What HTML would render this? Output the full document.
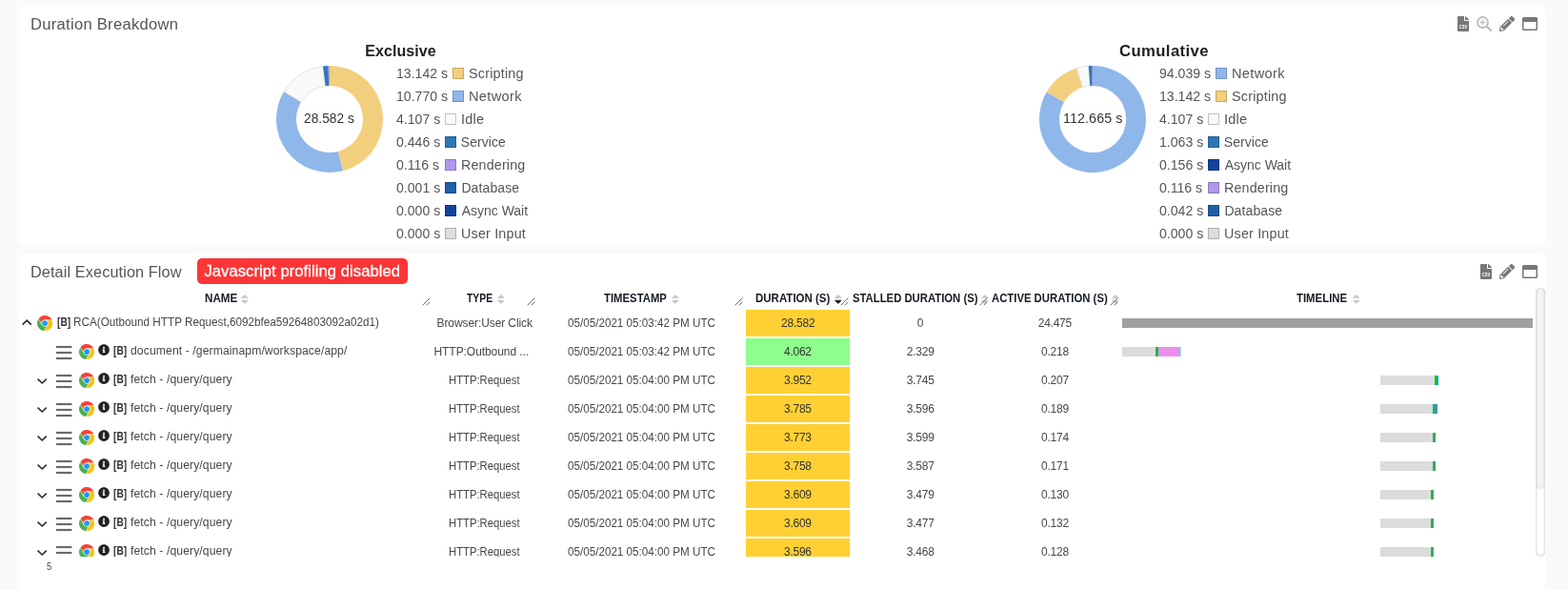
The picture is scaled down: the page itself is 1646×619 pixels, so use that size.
<!DOCTYPE html>
<html lang="en"><head><meta charset="utf-8"><title>Duration Breakdown</title><style>
html,body{margin:0;padding:0}
html{width:1646px;height:619px;overflow:hidden;background:#fafafa}
body{width:1646px;height:619px;overflow:hidden;background:#fafafa;position:relative;font-family:"Liberation Sans", sans-serif}
.a{position:absolute;display:block}
.panel{position:absolute;background:#ffffff;border-radius:4px}
.t{position:absolute;white-space:pre;line-height:20px;font-family:"Liberation Sans", sans-serif;transform-origin:0 50%}
</style></head>
<body>
<div class="panel" style="left:20px;top:7px;width:1602px;height:250px"></div>
<div class="panel" style="left:20px;top:267px;width:1602px;height:352px;border-radius:4px 4px 0 0"></div>
<span class="t" style="left:32.17px;top:16.00px;font-size:16px;font-weight:400;color:#555555;letter-spacing:0.281px;transform:scaleX(1.0346);">Duration Breakdown</span>
<span class="t" style="left:32.18px;top:276.00px;font-size:16px;font-weight:400;color:#555555;letter-spacing:0.113px;transform:scaleX(1.0150);">Detail Execution Flow</span>
<svg class="a" style="left:1530px;top:17px" width="12" height="16" viewBox="0 0 384 512"><path fill="#777777" d="M224 136V0H24C10.700 0 0 10.700 0 24v464c0 13.300 10.700 24 24 24h336c13.300 0 24-10.700 24-24V160H248c-13.200 0-24-10.800-24-24zM384 121.900v6.100H256V0h6.100c6.400 0 12.500 2.500 17 7l97.900 98c4.500 4.500 7 10.600 7 16.900z"/><text x="192" y="404" text-anchor="middle" font-family="Liberation Sans, sans-serif" font-weight="700" font-size="172" fill="#fff" textLength="272" lengthAdjust="spacingAndGlyphs">CSV</text></svg>
<svg class="a" style="left:1550px;top:17px" width="16" height="16" viewBox="0 0 16 16" fill="none" stroke="#bcbcbc"><circle cx="6.500" cy="6.500" r="5.500" stroke-width="1.800"/><path d="M10.800 10.800L15.100 15.100" stroke-width="2.200" stroke-linecap="round"/><path d="M3.600 6.500H9.400M6.500 3.600V9.400" stroke-width="1.300"/></svg>
<svg class="a" style="left:1574px;top:17px" width="16" height="16" viewBox="0 0 512 512"><path fill="#777777" d="M497.900 142.100l-46.100 46.100c-4.700 4.700-12.300 4.700-17 0l-111-111c-4.700-4.700-4.700-12.300 0-17l46.100-46.100c18.700-18.700 49.100-18.700 67.900 0l60.100 60.100c18.800 18.700 18.800 49.100 0 67.900zM284.200 99.800L21.600 362.400.4 483.900c-2.900 16.400 11.400 30.600 27.800 27.800l121.500-21.300 262.600-262.600c4.700-4.700 4.700-12.300 0-17l-111-111c-4.800-4.700-12.400-4.700-17.100 0zM124.100 339.900c-5.500-5.500-5.500-14.300 0-19.800l154-154c5.500-5.500 14.300-5.500 19.800 0s5.500 14.300 0 19.800l-154 154c-5.500 5.500-14.300 5.500-19.800 0zM88 424h48v36.300l-64.500 11.300-31.100-31.100L51.700 376H88v48z"/></svg>
<svg class="a" style="left:1598px;top:17px" width="16" height="16" viewBox="0 0 512 512"><path fill="#777777" d="M464 32H48C21.500 32 0 53.500 0 80v352c0 26.500 21.500 48 48 48h416c26.500 0 48-21.500 48-48V80c0-26.500-21.500-48-48-48zm0 394c0 3.300-2.700 6-6 6H54c-3.300 0-6-2.700-6-6V192h416v234z"/></svg>
<svg class="a" style="left:1554px;top:277px" width="12" height="16" viewBox="0 0 384 512"><path fill="#777777" d="M224 136V0H24C10.700 0 0 10.700 0 24v464c0 13.300 10.700 24 24 24h336c13.300 0 24-10.700 24-24V160H248c-13.200 0-24-10.800-24-24zM384 121.900v6.100H256V0h6.100c6.400 0 12.500 2.500 17 7l97.900 98c4.500 4.500 7 10.600 7 16.900z"/><text x="192" y="404" text-anchor="middle" font-family="Liberation Sans, sans-serif" font-weight="700" font-size="172" fill="#fff" textLength="272" lengthAdjust="spacingAndGlyphs">CSV</text></svg>
<svg class="a" style="left:1574px;top:277px" width="16" height="16" viewBox="0 0 512 512"><path fill="#777777" d="M497.900 142.100l-46.100 46.100c-4.700 4.700-12.300 4.700-17 0l-111-111c-4.700-4.700-4.700-12.300 0-17l46.100-46.100c18.700-18.700 49.100-18.700 67.900 0l60.100 60.100c18.800 18.700 18.800 49.100 0 67.900zM284.200 99.800L21.600 362.400.4 483.900c-2.900 16.400 11.400 30.600 27.800 27.800l121.500-21.300 262.600-262.600c4.700-4.700 4.700-12.300 0-17l-111-111c-4.800-4.700-12.400-4.700-17.100 0zM124.100 339.900c-5.500-5.500-5.500-14.300 0-19.800l154-154c5.500-5.500 14.300-5.500 19.800 0s5.500 14.300 0 19.800l-154 154c-5.500 5.500-14.300 5.500-19.800 0zM88 424h48v36.300l-64.500 11.300-31.100-31.100L51.700 376H88v48z"/></svg>
<svg class="a" style="left:1598px;top:277px" width="16" height="16" viewBox="0 0 512 512"><path fill="#777777" d="M464 32H48C21.500 32 0 53.500 0 80v352c0 26.500 21.500 48 48 48h416c26.500 0 48-21.500 48-48V80c0-26.500-21.500-48-48-48zm0 394c0 3.300-2.700 6-6 6H54c-3.300 0-6-2.700-6-6V192h416v234z"/></svg>
<svg class="a" style="left:285.9px;top:65px" width="120" height="120" viewBox="285.9 65 120 120"><path d="M345.90 69.00A56 56 0 0 1 359.89 179.22L354.65 158.89A35 35 0 0 0 345.90 90.00Z" fill="#f2cf7c" /><path d="M359.89 179.22A56 56 0 0 1 297.99 96.01L315.96 106.88A35 35 0 0 0 354.65 158.89Z" fill="#90b7ea" /><path d="M297.99 96.01A56 56 0 0 1 338.99 69.43L341.58 90.27A35 35 0 0 0 315.96 106.88Z" fill="#f9f9f9" stroke="#e0e0e0" stroke-width="0.9"/><path d="M338.99 69.43A56 56 0 0 1 344.46 69.02L345.00 90.01A35 35 0 0 0 341.58 90.27Z" fill="#2f77b4" /><path d="M344.46 69.02A56 56 0 0 1 345.89 69.00L345.89 90.00A35 35 0 0 0 345.00 90.01Z" fill="#b298ea" /><path d="M345.89 69.00A56 56 0 0 1 345.90 69.00L345.90 90.00A35 35 0 0 0 345.89 90.00Z" fill="#1f5fa8" /></svg>
<span class="t" style="left:383.30px;top:44.00px;font-size:16px;font-weight:700;color:#222222;letter-spacing:0.062px;">Exclusive</span>
<span class="t" style="left:319.40px;top:114.00px;font-size:14px;font-weight:400;color:#333333;transform:scaleX(0.9833);">28.582 s</span>
<span class="t" style="left:415.90px;top:67.00px;font-size:14px;font-weight:400;color:#555555;transform:scaleX(1.0060);">13.142 s</span>
<div class="a" style="left:475px;top:71px;width:12px;height:12px;box-sizing:border-box;background:#f2cf7c;border:1px solid #c9a95c"></div>
<span class="t" style="left:491.77px;top:67.00px;font-size:14px;font-weight:400;color:#555555;letter-spacing:0.182px;transform:scaleX(1.0283);">Scripting</span>
<span class="t" style="left:415.90px;top:91.00px;font-size:14px;font-weight:400;color:#555555;transform:scaleX(1.0060);">10.770 s</span>
<div class="a" style="left:475px;top:95px;width:12px;height:12px;box-sizing:border-box;background:#90b7ea;border:1px solid #6f93c4"></div>
<span class="t" style="left:492.06px;top:91.00px;font-size:14px;font-weight:400;color:#555555;letter-spacing:0.328px;transform:scaleX(1.0410);">Network</span>
<span class="t" style="left:415.90px;top:115.00px;font-size:14px;font-weight:400;color:#555555;transform:scaleX(1.0060);">4.107 s</span>
<div class="a" style="left:467.1px;top:119px;width:12px;height:12px;box-sizing:border-box;background:#f9f9f9;border:1px solid #c2c2c2"></div>
<span class="t" style="left:484.06px;top:115.00px;font-size:14px;font-weight:400;color:#555555;letter-spacing:0.241px;transform:scaleX(1.0357);">Idle</span>
<span class="t" style="left:415.90px;top:139.00px;font-size:14px;font-weight:400;color:#555555;transform:scaleX(1.0060);">0.446 s</span>
<div class="a" style="left:467.1px;top:143px;width:12px;height:12px;box-sizing:border-box;background:#2f77b4;border:1px solid #255f90"></div>
<span class="t" style="left:483.80px;top:139.00px;font-size:14px;font-weight:400;color:#555555;letter-spacing:0.050px;">Service</span>
<span class="t" style="left:415.90px;top:163.00px;font-size:14px;font-weight:400;color:#555555;transform:scaleX(1.0060);">0.116 s</span>
<div class="a" style="left:467.1px;top:167px;width:12px;height:12px;box-sizing:border-box;background:#b298ea;border:1px solid #8e79bb"></div>
<span class="t" style="left:484.38px;top:163.00px;font-size:14px;font-weight:400;color:#555555;letter-spacing:0.159px;transform:scaleX(1.0206);">Rendering</span>
<span class="t" style="left:415.90px;top:187.00px;font-size:14px;font-weight:400;color:#555555;transform:scaleX(1.0060);">0.001 s</span>
<div class="a" style="left:467.1px;top:191px;width:12px;height:12px;box-sizing:border-box;background:#1f5fa8;border:1px solid #194c86"></div>
<span class="t" style="left:484.40px;top:187.00px;font-size:14px;font-weight:400;color:#555555;letter-spacing:0.114px;">Database</span>
<span class="t" style="left:415.90px;top:211.00px;font-size:14px;font-weight:400;color:#555555;transform:scaleX(1.0060);">0.000 s</span>
<div class="a" style="left:467.1px;top:215px;width:12px;height:12px;box-sizing:border-box;background:#12449c;border:1px solid #0e367d"></div>
<span class="t" style="left:484.80px;top:211.00px;font-size:14px;font-weight:400;color:#555555;letter-spacing:-0.022px;">Async Wait</span>
<span class="t" style="left:415.90px;top:235.00px;font-size:14px;font-weight:400;color:#555555;transform:scaleX(1.0060);">0.000 s</span>
<div class="a" style="left:467.1px;top:239px;width:12px;height:12px;box-sizing:border-box;background:#dddddd;border:1px solid #b0b0b0"></div>
<span class="t" style="left:484.38px;top:235.00px;font-size:14px;font-weight:400;color:#555555;letter-spacing:0.173px;transform:scaleX(1.0250);">User Input</span>
<svg class="a" style="left:1086.65px;top:65px" width="120" height="120" viewBox="1086.65 65 120 120"><path d="M1146.65 69.00A56 56 0 1 1 1098.39 96.59L1116.49 107.24A35 35 0 1 0 1146.65 90.00Z" fill="#90b7ea" /><path d="M1098.39 96.59A56 56 0 0 1 1129.79 71.60L1136.11 91.62A35 35 0 0 0 1116.49 107.24Z" fill="#f2cf7c" /><path d="M1129.79 71.60A56 56 0 0 1 1142.35 69.17L1143.96 90.10A35 35 0 0 0 1136.11 91.62Z" fill="#f9f9f9" stroke="#e0e0e0" stroke-width="0.9"/><path d="M1142.35 69.17A56 56 0 0 1 1145.67 69.01L1146.04 90.01A35 35 0 0 0 1143.96 90.10Z" fill="#2f77b4" /><path d="M1145.67 69.01A56 56 0 0 1 1146.16 69.00L1146.34 90.00A35 35 0 0 0 1146.04 90.01Z" fill="#12449c" /><path d="M1146.16 69.00A56 56 0 0 1 1146.52 69.00L1146.57 90.00A35 35 0 0 0 1146.34 90.00Z" fill="#b298ea" /><path d="M1146.52 69.00A56 56 0 0 1 1146.65 69.00L1146.65 90.00A35 35 0 0 0 1146.57 90.00Z" fill="#1f5fa8" /></svg>
<span class="t" style="left:1174.60px;top:44.00px;font-size:16px;font-weight:700;color:#222222;letter-spacing:0.389px;transform:scaleX(1.0424);">Cumulative</span>
<span class="t" style="left:1115.68px;top:114.00px;font-size:14px;font-weight:400;color:#333333;letter-spacing:0.117px;transform:scaleX(1.0161);">112.665 s</span>
<span class="t" style="left:1216.90px;top:67.00px;font-size:14px;font-weight:400;color:#555555;transform:scaleX(1.0060);">94.039 s</span>
<div class="a" style="left:1276px;top:71px;width:12px;height:12px;box-sizing:border-box;background:#90b7ea;border:1px solid #6f93c4"></div>
<span class="t" style="left:1293.06px;top:67.00px;font-size:14px;font-weight:400;color:#555555;letter-spacing:0.328px;transform:scaleX(1.0410);">Network</span>
<span class="t" style="left:1216.90px;top:91.00px;font-size:14px;font-weight:400;color:#555555;transform:scaleX(1.0060);">13.142 s</span>
<div class="a" style="left:1276px;top:95px;width:12px;height:12px;box-sizing:border-box;background:#f2cf7c;border:1px solid #c9a95c"></div>
<span class="t" style="left:1292.77px;top:91.00px;font-size:14px;font-weight:400;color:#555555;letter-spacing:0.182px;transform:scaleX(1.0283);">Scripting</span>
<span class="t" style="left:1216.90px;top:115.00px;font-size:14px;font-weight:400;color:#555555;transform:scaleX(1.0060);">4.107 s</span>
<div class="a" style="left:1268.1px;top:119px;width:12px;height:12px;box-sizing:border-box;background:#f9f9f9;border:1px solid #c2c2c2"></div>
<span class="t" style="left:1285.06px;top:115.00px;font-size:14px;font-weight:400;color:#555555;letter-spacing:0.241px;transform:scaleX(1.0357);">Idle</span>
<span class="t" style="left:1216.90px;top:139.00px;font-size:14px;font-weight:400;color:#555555;transform:scaleX(1.0060);">1.063 s</span>
<div class="a" style="left:1268.1px;top:143px;width:12px;height:12px;box-sizing:border-box;background:#2f77b4;border:1px solid #255f90"></div>
<span class="t" style="left:1284.80px;top:139.00px;font-size:14px;font-weight:400;color:#555555;letter-spacing:0.050px;">Service</span>
<span class="t" style="left:1216.90px;top:163.00px;font-size:14px;font-weight:400;color:#555555;transform:scaleX(1.0060);">0.156 s</span>
<div class="a" style="left:1268.1px;top:167px;width:12px;height:12px;box-sizing:border-box;background:#12449c;border:1px solid #0e367d"></div>
<span class="t" style="left:1285.80px;top:163.00px;font-size:14px;font-weight:400;color:#555555;letter-spacing:-0.022px;">Async Wait</span>
<span class="t" style="left:1216.90px;top:187.00px;font-size:14px;font-weight:400;color:#555555;transform:scaleX(1.0060);">0.116 s</span>
<div class="a" style="left:1268.1px;top:191px;width:12px;height:12px;box-sizing:border-box;background:#b298ea;border:1px solid #8e79bb"></div>
<span class="t" style="left:1285.38px;top:187.00px;font-size:14px;font-weight:400;color:#555555;letter-spacing:0.159px;transform:scaleX(1.0206);">Rendering</span>
<span class="t" style="left:1216.90px;top:211.00px;font-size:14px;font-weight:400;color:#555555;transform:scaleX(1.0060);">0.042 s</span>
<div class="a" style="left:1268.1px;top:215px;width:12px;height:12px;box-sizing:border-box;background:#1f5fa8;border:1px solid #194c86"></div>
<span class="t" style="left:1285.40px;top:211.00px;font-size:14px;font-weight:400;color:#555555;letter-spacing:0.114px;">Database</span>
<span class="t" style="left:1216.90px;top:235.00px;font-size:14px;font-weight:400;color:#555555;transform:scaleX(1.0060);">0.000 s</span>
<div class="a" style="left:1268.1px;top:239px;width:12px;height:12px;box-sizing:border-box;background:#dddddd;border:1px solid #b0b0b0"></div>
<span class="t" style="left:1285.38px;top:235.00px;font-size:14px;font-weight:400;color:#555555;letter-spacing:0.173px;transform:scaleX(1.0250);">User Input</span>
<div class="a" style="left:207px;top:271px;width:221px;height:27px;border-radius:5px;background:#fc3535"></div>
<span class="t" style="left:214.40px;top:275.40px;font-size:16.6px;font-weight:400;color:#ffffff;letter-spacing:0.064px;-webkit-text-stroke:0.3px #fff;">Javascript profiling disabled</span>
<span class="t" style="left:215.20px;top:303.00px;font-size:12px;font-weight:700;color:#151922;transform:scaleX(0.9714);">NAME</span>
<svg class="a" style="left:253.20px;top:309.05px" width="7.800" height="9.800" viewBox="0 0 7.800 9.800" stroke-width="0.700" stroke-linejoin="round"><path fill="#c6c6c6" stroke="#c6c6c6" d="M3.900 0.400L7.300 3.600H0.500Z"/><path fill="#c6c6c6" stroke="#c6c6c6" d="M0.500 6.200H7.300L3.900 9.400Z"/></svg>
<span class="t" style="left:490.40px;top:303.00px;font-size:12px;font-weight:700;color:#151922;transform:scaleX(0.8645);">TYPE</span>
<svg class="a" style="left:521.60px;top:309.05px" width="7.800" height="9.800" viewBox="0 0 7.800 9.800" stroke-width="0.700" stroke-linejoin="round"><path fill="#c6c6c6" stroke="#c6c6c6" d="M3.900 0.400L7.300 3.600H0.500Z"/><path fill="#c6c6c6" stroke="#c6c6c6" d="M0.500 6.200H7.300L3.900 9.400Z"/></svg>
<span class="t" style="left:634.40px;top:303.00px;font-size:12px;font-weight:700;color:#151922;transform:scaleX(0.9443);">TIMESTAMP</span>
<svg class="a" style="left:704.90px;top:309.05px" width="7.800" height="9.800" viewBox="0 0 7.800 9.800" stroke-width="0.700" stroke-linejoin="round"><path fill="#c6c6c6" stroke="#c6c6c6" d="M3.900 0.400L7.300 3.600H0.500Z"/><path fill="#c6c6c6" stroke="#c6c6c6" d="M0.500 6.200H7.300L3.900 9.400Z"/></svg>
<span class="t" style="left:793.00px;top:303.00px;font-size:12px;font-weight:700;color:#151922;transform:scaleX(0.9585);">DURATION (S)</span>
<svg class="a" style="left:875.50px;top:309.05px" width="7.800" height="9.800" viewBox="0 0 7.800 9.800" stroke-width="0.700" stroke-linejoin="round"><path fill="#c4c4c4" stroke="#c4c4c4" d="M3.900 0.400L7.300 3.600H0.500Z"/><path fill="#111" stroke="#111" d="M0.500 6.200H7.300L3.900 9.400Z"/></svg>
<span class="t" style="left:894.60px;top:303.00px;font-size:12px;font-weight:700;color:#151922;transform:scaleX(0.9424);">STALLED DURATION (S)</span>
<svg class="a" style="left:1030.20px;top:309.05px" width="7.800" height="9.800" viewBox="0 0 7.800 9.800" stroke-width="0.700" stroke-linejoin="round"><path fill="#c6c6c6" stroke="#c6c6c6" d="M3.900 0.400L7.300 3.600H0.500Z"/><path fill="#c6c6c6" stroke="#c6c6c6" d="M0.500 6.200H7.300L3.900 9.400Z"/></svg>
<span class="t" style="left:1041.00px;top:303.00px;font-size:12px;font-weight:700;color:#151922;transform:scaleX(0.9426);">ACTIVE DURATION (S)</span>
<svg class="a" style="left:1166.70px;top:309.05px" width="7.800" height="9.800" viewBox="0 0 7.800 9.800" stroke-width="0.700" stroke-linejoin="round"><path fill="#c6c6c6" stroke="#c6c6c6" d="M3.900 0.400L7.300 3.600H0.500Z"/><path fill="#c6c6c6" stroke="#c6c6c6" d="M0.500 6.200H7.300L3.900 9.400Z"/></svg>
<span class="t" style="left:1361.40px;top:303.00px;font-size:12px;font-weight:700;color:#151922;transform:scaleX(0.9482);">TIMELINE</span>
<svg class="a" style="left:1419.60px;top:309.05px" width="7.800" height="9.800" viewBox="0 0 7.800 9.800" stroke-width="0.700" stroke-linejoin="round"><path fill="#c6c6c6" stroke="#c6c6c6" d="M3.900 0.400L7.300 3.600H0.500Z"/><path fill="#c6c6c6" stroke="#c6c6c6" d="M0.500 6.200H7.300L3.900 9.400Z"/></svg>
<svg class="a" style="left:442.5px;top:312.3px" width="10" height="10" viewBox="0 0 10 10" stroke="#555" stroke-width="0.9" fill="none"><path d="M0.600 8.300L8.300 0.600M4.800 8.300L8.300 4.800"/></svg>
<svg class="a" style="left:552.5px;top:312.3px" width="10" height="10" viewBox="0 0 10 10" stroke="#555" stroke-width="0.9" fill="none"><path d="M0.600 8.300L8.300 0.600M4.800 8.300L8.300 4.800"/></svg>
<svg class="a" style="left:770.5px;top:312.3px" width="10" height="10" viewBox="0 0 10 10" stroke="#555" stroke-width="0.9" fill="none"><path d="M0.600 8.300L8.300 0.600M4.800 8.300L8.300 4.800"/></svg>
<svg class="a" style="left:881.5px;top:312.3px" width="10" height="10" viewBox="0 0 10 10" stroke="#555" stroke-width="0.9" fill="none"><path d="M0.600 8.300L8.300 0.600M4.800 8.300L8.300 4.800"/></svg>
<svg class="a" style="left:1027.5px;top:312.3px" width="10" height="10" viewBox="0 0 10 10" stroke="#555" stroke-width="0.9" fill="none"><path d="M0.600 8.300L8.300 0.600M4.800 8.300L8.300 4.800"/></svg>
<svg class="a" style="left:1164.5px;top:312.3px" width="10" height="10" viewBox="0 0 10 10" stroke="#555" stroke-width="0.9" fill="none"><path d="M0.600 8.300L8.300 0.600M4.800 8.300L8.300 4.800"/></svg>
<div class="a" id="tbl" style="left:20px;top:324px;width:1592px;height:260px;overflow:hidden"><div class="a" style="left:-20px;top:-324px;width:1646px;height:700px">
<div class="a" style="left:783px;top:325px;width:109px;height:28px;background:#ffd033"></div>
<svg class="a" style="left:22.9px;top:335.40px" width="10.400" height="6.400" viewBox="0 0 10.400 6.400" fill="none" stroke="#2a2a2a" stroke-width="1.600" overflow="visible"><path d="M0.600 5.60L5.200 1.100L9.800 5.600"/></svg>
<svg class="a" style="left:38.8px;top:330.8px" width="16.200" height="16.200" viewBox="0 0 48 48"><path fill="#f44336" d="M4.43 10.11A24.0 24.0 0 0 1 45.82 14.00L24.00 14.00A10.0 10.0 0 0 0 15.34 29.00Z"/><path fill="#ffc107" d="M45.82 14.00A24.0 24.0 0 0 1 21.75 47.89L32.66 29.00A10.0 10.0 0 0 0 24.00 14.00Z"/><path fill="#4caf50" d="M21.75 47.89A24.0 24.0 0 0 1 4.43 10.11L15.34 29.00A10.0 10.0 0 0 0 32.66 29.00Z"/><path d="M46.82 14.00L24.00 14.00" stroke="#fff" stroke-width="1.600" fill="none"/><path d="M21.25 48.76L32.66 29.00" stroke="#fff" stroke-width="1.600" fill="none"/><path d="M3.93 9.24L15.34 29.00" stroke="#fff" stroke-width="1.600" fill="none"/><circle cx="24" cy="24" r="10.300" fill="#fff"/><circle cx="24" cy="24" r="8.600" fill="#2196f3"/></svg>
<span class="t" style="left:59.60px;top:328.00px;font-size:12px;font-weight:700;color:#333;transform:scaleX(0.8471);">[B]</span>
<span class="t" style="left:77.12px;top:328.00px;font-size:12px;font-weight:400;color:#474747;transform:scaleX(0.9765);">RCA(Outbound HTTP Request,6092bfea59264803092a02d1)</span>
<span class="t" style="left:458.50px;top:328.50px;font-size:12px;font-weight:400;color:#474747;letter-spacing:-0.088px;">Browser:User Click</span>
<span class="t" style="left:596.00px;top:328.50px;font-size:12px;font-weight:400;color:#474747;transform:scaleX(0.9717);">05/05/2021 05:03:42 PM UTC</span>
<span class="t" style="left:820.12px;top:328.50px;font-size:12px;font-weight:400;color:#333;letter-spacing:-0.250px;">28.582</span>
<span class="t" style="left:962.80px;top:328.50px;font-size:12px;font-weight:400;color:#474747;letter-spacing:-0.250px;">0</span>
<span class="t" style="left:1089.72px;top:328.50px;font-size:12px;font-weight:400;color:#474747;letter-spacing:-0.250px;">24.475</span>
<div class="a" style="left:1178px;top:334px;width:431.00px;height:10px;background:#a0a0a0"></div>
<div class="a" style="left:783px;top:355px;width:109px;height:28px;background:#8cff8c"></div>
<svg class="a" style="left:58.5px;top:363px" width="16.400" height="14" viewBox="0 0 16.400 14" fill="#6a6a6a" overflow="visible"><rect x="0" y="-0.100" width="16.400" height="2.200"/><rect x="0" y="5.900" width="16.400" height="2.200"/><rect x="0" y="11.900" width="16.400" height="2.200"/></svg>
<svg class="a" style="left:82.9px;top:360.8px" width="16.200" height="16.200" viewBox="0 0 48 48"><path fill="#f44336" d="M4.43 10.11A24.0 24.0 0 0 1 45.82 14.00L24.00 14.00A10.0 10.0 0 0 0 15.34 29.00Z"/><path fill="#ffc107" d="M45.82 14.00A24.0 24.0 0 0 1 21.75 47.89L32.66 29.00A10.0 10.0 0 0 0 24.00 14.00Z"/><path fill="#4caf50" d="M21.75 47.89A24.0 24.0 0 0 1 4.43 10.11L15.34 29.00A10.0 10.0 0 0 0 32.66 29.00Z"/><path d="M46.82 14.00L24.00 14.00" stroke="#fff" stroke-width="1.600" fill="none"/><path d="M21.25 48.76L32.66 29.00" stroke="#fff" stroke-width="1.600" fill="none"/><path d="M3.93 9.24L15.34 29.00" stroke="#fff" stroke-width="1.600" fill="none"/><circle cx="24" cy="24" r="10.300" fill="#fff"/><circle cx="24" cy="24" r="8.600" fill="#2196f3"/></svg>
<svg class="a" style="left:102.95px;top:361.35px" width="12.100" height="12.100" viewBox="0 0 512 512"><path fill="#222" d="M256 8C119.043 8 8 119.083 8 256c0 136.997 111.043 248 248 248s248-111.003 248-248C504 119.083 392.957 8 256 8zm0 110c23.196 0 42 18.804 42 42s-18.804 42-42 42-42-18.804-42-42 18.804-42 42-42zm56 254c0 6.627-5.373 12-12 12h-88c-6.627 0-12-5.373-12-12v-24c0-6.627 5.373-12 12-12h12v-64h-12c-6.627 0-12-5.373-12-12v-24c0-6.627 5.373-12 12-12h64c6.627 0 12 5.373 12 12v100h12c6.627 0 12 5.373 12 12v24z"/></svg>
<span class="t" style="left:118.90px;top:358.00px;font-size:12px;font-weight:700;color:#333;transform:scaleX(0.8471);">[B]</span>
<span class="t" style="left:137.00px;top:358.00px;font-size:12px;font-weight:400;color:#474747;letter-spacing:0.090px;transform:scaleX(1.0149);">document - /germainapm/workspace/app/</span>
<span class="t" style="left:455.50px;top:358.50px;font-size:12px;font-weight:400;color:#474747;letter-spacing:-0.062px;">HTTP:Outbound ...</span>
<span class="t" style="left:596.00px;top:358.50px;font-size:12px;font-weight:400;color:#474747;transform:scaleX(0.9717);">05/05/2021 05:03:42 PM UTC</span>
<span class="t" style="left:823.00px;top:358.50px;font-size:12px;font-weight:400;color:#333;letter-spacing:-0.250px;">4.062</span>
<span class="t" style="left:951.80px;top:358.50px;font-size:12px;font-weight:400;color:#474747;letter-spacing:-0.250px;">2.329</span>
<span class="t" style="left:1093.10px;top:358.50px;font-size:12px;font-weight:400;color:#474747;letter-spacing:-0.250px;">0.218</span>
<div class="a" style="left:1178px;top:364px;width:34.80px;height:10px;background:#dcdcdc"></div>
<div class="a" style="left:1212.8px;top:364px;width:3.40px;height:10px;background:#08c040"></div>
<div class="a" style="left:1216.2px;top:364px;width:23.00px;height:10px;background:#ee8cee"></div>
<div class="a" style="left:1239.2px;top:364px;width:0.80px;height:10px;background:#8ff"></div>
<div class="a" style="left:783px;top:385px;width:109px;height:28px;background:#ffd033"></div>
<svg class="a" style="left:38.95px;top:396.60px" width="10.400" height="6.400" viewBox="0 0 10.400 6.400" fill="none" stroke="#2a2a2a" stroke-width="1.600" overflow="visible"><path d="M0.600 0.700L5.200 5.000L9.800 0.700"/></svg>
<svg class="a" style="left:58.5px;top:393px" width="16.400" height="14" viewBox="0 0 16.400 14" fill="#6a6a6a" overflow="visible"><rect x="0" y="-0.100" width="16.400" height="2.200"/><rect x="0" y="5.900" width="16.400" height="2.200"/><rect x="0" y="11.900" width="16.400" height="2.200"/></svg>
<svg class="a" style="left:82.9px;top:390.8px" width="16.200" height="16.200" viewBox="0 0 48 48"><path fill="#f44336" d="M4.43 10.11A24.0 24.0 0 0 1 45.82 14.00L24.00 14.00A10.0 10.0 0 0 0 15.34 29.00Z"/><path fill="#ffc107" d="M45.82 14.00A24.0 24.0 0 0 1 21.75 47.89L32.66 29.00A10.0 10.0 0 0 0 24.00 14.00Z"/><path fill="#4caf50" d="M21.75 47.89A24.0 24.0 0 0 1 4.43 10.11L15.34 29.00A10.0 10.0 0 0 0 32.66 29.00Z"/><path d="M46.82 14.00L24.00 14.00" stroke="#fff" stroke-width="1.600" fill="none"/><path d="M21.25 48.76L32.66 29.00" stroke="#fff" stroke-width="1.600" fill="none"/><path d="M3.93 9.24L15.34 29.00" stroke="#fff" stroke-width="1.600" fill="none"/><circle cx="24" cy="24" r="10.300" fill="#fff"/><circle cx="24" cy="24" r="8.600" fill="#2196f3"/></svg>
<svg class="a" style="left:102.95px;top:391.35px" width="12.100" height="12.100" viewBox="0 0 512 512"><path fill="#222" d="M256 8C119.043 8 8 119.083 8 256c0 136.997 111.043 248 248 248s248-111.003 248-248C504 119.083 392.957 8 256 8zm0 110c23.196 0 42 18.804 42 42s-18.804 42-42 42-42-18.804-42-42 18.804-42 42-42zm56 254c0 6.627-5.373 12-12 12h-88c-6.627 0-12-5.373-12-12v-24c0-6.627 5.373-12 12-12h12v-64h-12c-6.627 0-12-5.373-12-12v-24c0-6.627 5.373-12 12-12h64c6.627 0 12 5.373 12 12v100h12c6.627 0 12 5.373 12 12v24z"/></svg>
<span class="t" style="left:118.90px;top:388.00px;font-size:12px;font-weight:700;color:#333;transform:scaleX(0.8471);">[B]</span>
<span class="t" style="left:137.00px;top:388.00px;font-size:12px;font-weight:400;color:#474747;letter-spacing:0.085px;transform:scaleX(1.0159);">fetch - /query/query</span>
<span class="t" style="left:471.16px;top:388.50px;font-size:12px;font-weight:400;color:#474747;transform:scaleX(0.9405);">HTTP:Request</span>
<span class="t" style="left:596.00px;top:388.50px;font-size:12px;font-weight:400;color:#474747;transform:scaleX(0.9717);">05/05/2021 05:04:00 PM UTC</span>
<span class="t" style="left:823.00px;top:388.50px;font-size:12px;font-weight:400;color:#333;letter-spacing:-0.250px;">3.952</span>
<span class="t" style="left:951.80px;top:388.50px;font-size:12px;font-weight:400;color:#474747;letter-spacing:-0.250px;">3.745</span>
<span class="t" style="left:1093.10px;top:388.50px;font-size:12px;font-weight:400;color:#474747;letter-spacing:-0.250px;">0.207</span>
<div class="a" style="left:1449px;top:394px;width:56.90px;height:10px;background:#dcdcdc"></div>
<div class="a" style="left:1505.9px;top:394px;width:3.10px;height:10px;background:#08c040"></div>
<div class="a" style="left:1509px;top:394px;width:1.00px;height:10px;background:#1e9bff"></div>
<div class="a" style="left:783px;top:415px;width:109px;height:28px;background:#ffd033"></div>
<svg class="a" style="left:38.95px;top:426.60px" width="10.400" height="6.400" viewBox="0 0 10.400 6.400" fill="none" stroke="#2a2a2a" stroke-width="1.600" overflow="visible"><path d="M0.600 0.700L5.200 5.000L9.800 0.700"/></svg>
<svg class="a" style="left:58.5px;top:423px" width="16.400" height="14" viewBox="0 0 16.400 14" fill="#6a6a6a" overflow="visible"><rect x="0" y="-0.100" width="16.400" height="2.200"/><rect x="0" y="5.900" width="16.400" height="2.200"/><rect x="0" y="11.900" width="16.400" height="2.200"/></svg>
<svg class="a" style="left:82.9px;top:420.8px" width="16.200" height="16.200" viewBox="0 0 48 48"><path fill="#f44336" d="M4.43 10.11A24.0 24.0 0 0 1 45.82 14.00L24.00 14.00A10.0 10.0 0 0 0 15.34 29.00Z"/><path fill="#ffc107" d="M45.82 14.00A24.0 24.0 0 0 1 21.75 47.89L32.66 29.00A10.0 10.0 0 0 0 24.00 14.00Z"/><path fill="#4caf50" d="M21.75 47.89A24.0 24.0 0 0 1 4.43 10.11L15.34 29.00A10.0 10.0 0 0 0 32.66 29.00Z"/><path d="M46.82 14.00L24.00 14.00" stroke="#fff" stroke-width="1.600" fill="none"/><path d="M21.25 48.76L32.66 29.00" stroke="#fff" stroke-width="1.600" fill="none"/><path d="M3.93 9.24L15.34 29.00" stroke="#fff" stroke-width="1.600" fill="none"/><circle cx="24" cy="24" r="10.300" fill="#fff"/><circle cx="24" cy="24" r="8.600" fill="#2196f3"/></svg>
<svg class="a" style="left:102.95px;top:421.35px" width="12.100" height="12.100" viewBox="0 0 512 512"><path fill="#222" d="M256 8C119.043 8 8 119.083 8 256c0 136.997 111.043 248 248 248s248-111.003 248-248C504 119.083 392.957 8 256 8zm0 110c23.196 0 42 18.804 42 42s-18.804 42-42 42-42-18.804-42-42 18.804-42 42-42zm56 254c0 6.627-5.373 12-12 12h-88c-6.627 0-12-5.373-12-12v-24c0-6.627 5.373-12 12-12h12v-64h-12c-6.627 0-12-5.373-12-12v-24c0-6.627 5.373-12 12-12h64c6.627 0 12 5.373 12 12v100h12c6.627 0 12 5.373 12 12v24z"/></svg>
<span class="t" style="left:118.90px;top:418.00px;font-size:12px;font-weight:700;color:#333;transform:scaleX(0.8471);">[B]</span>
<span class="t" style="left:137.00px;top:418.00px;font-size:12px;font-weight:400;color:#474747;letter-spacing:0.085px;transform:scaleX(1.0159);">fetch - /query/query</span>
<span class="t" style="left:471.16px;top:418.50px;font-size:12px;font-weight:400;color:#474747;transform:scaleX(0.9405);">HTTP:Request</span>
<span class="t" style="left:596.00px;top:418.50px;font-size:12px;font-weight:400;color:#474747;transform:scaleX(0.9717);">05/05/2021 05:04:00 PM UTC</span>
<span class="t" style="left:823.00px;top:418.50px;font-size:12px;font-weight:400;color:#333;letter-spacing:-0.250px;">3.785</span>
<span class="t" style="left:951.80px;top:418.50px;font-size:12px;font-weight:400;color:#474747;letter-spacing:-0.250px;">3.596</span>
<span class="t" style="left:1093.10px;top:418.50px;font-size:12px;font-weight:400;color:#474747;letter-spacing:-0.250px;">0.189</span>
<div class="a" style="left:1449px;top:424px;width:55.00px;height:10px;background:#dcdcdc"></div>
<div class="a" style="left:1504px;top:424px;width:2.00px;height:10px;background:#08c040"></div>
<div class="a" style="left:1506px;top:424px;width:1.50px;height:10px;background:#1e9bff"></div>
<div class="a" style="left:1507.5px;top:424px;width:0.50px;height:10px;background:#8a7a78"></div>
<div class="a" style="left:783px;top:445px;width:109px;height:28px;background:#ffd033"></div>
<svg class="a" style="left:38.95px;top:456.60px" width="10.400" height="6.400" viewBox="0 0 10.400 6.400" fill="none" stroke="#2a2a2a" stroke-width="1.600" overflow="visible"><path d="M0.600 0.700L5.200 5.000L9.800 0.700"/></svg>
<svg class="a" style="left:58.5px;top:453px" width="16.400" height="14" viewBox="0 0 16.400 14" fill="#6a6a6a" overflow="visible"><rect x="0" y="-0.100" width="16.400" height="2.200"/><rect x="0" y="5.900" width="16.400" height="2.200"/><rect x="0" y="11.900" width="16.400" height="2.200"/></svg>
<svg class="a" style="left:82.9px;top:450.8px" width="16.200" height="16.200" viewBox="0 0 48 48"><path fill="#f44336" d="M4.43 10.11A24.0 24.0 0 0 1 45.82 14.00L24.00 14.00A10.0 10.0 0 0 0 15.34 29.00Z"/><path fill="#ffc107" d="M45.82 14.00A24.0 24.0 0 0 1 21.75 47.89L32.66 29.00A10.0 10.0 0 0 0 24.00 14.00Z"/><path fill="#4caf50" d="M21.75 47.89A24.0 24.0 0 0 1 4.43 10.11L15.34 29.00A10.0 10.0 0 0 0 32.66 29.00Z"/><path d="M46.82 14.00L24.00 14.00" stroke="#fff" stroke-width="1.600" fill="none"/><path d="M21.25 48.76L32.66 29.00" stroke="#fff" stroke-width="1.600" fill="none"/><path d="M3.93 9.24L15.34 29.00" stroke="#fff" stroke-width="1.600" fill="none"/><circle cx="24" cy="24" r="10.300" fill="#fff"/><circle cx="24" cy="24" r="8.600" fill="#2196f3"/></svg>
<svg class="a" style="left:102.95px;top:451.35px" width="12.100" height="12.100" viewBox="0 0 512 512"><path fill="#222" d="M256 8C119.043 8 8 119.083 8 256c0 136.997 111.043 248 248 248s248-111.003 248-248C504 119.083 392.957 8 256 8zm0 110c23.196 0 42 18.804 42 42s-18.804 42-42 42-42-18.804-42-42 18.804-42 42-42zm56 254c0 6.627-5.373 12-12 12h-88c-6.627 0-12-5.373-12-12v-24c0-6.627 5.373-12 12-12h12v-64h-12c-6.627 0-12-5.373-12-12v-24c0-6.627 5.373-12 12-12h64c6.627 0 12 5.373 12 12v100h12c6.627 0 12 5.373 12 12v24z"/></svg>
<span class="t" style="left:118.90px;top:448.00px;font-size:12px;font-weight:700;color:#333;transform:scaleX(0.8471);">[B]</span>
<span class="t" style="left:137.00px;top:448.00px;font-size:12px;font-weight:400;color:#474747;letter-spacing:0.085px;transform:scaleX(1.0159);">fetch - /query/query</span>
<span class="t" style="left:471.16px;top:448.50px;font-size:12px;font-weight:400;color:#474747;transform:scaleX(0.9405);">HTTP:Request</span>
<span class="t" style="left:596.00px;top:448.50px;font-size:12px;font-weight:400;color:#474747;transform:scaleX(0.9717);">05/05/2021 05:04:00 PM UTC</span>
<span class="t" style="left:823.00px;top:448.50px;font-size:12px;font-weight:400;color:#333;letter-spacing:-0.250px;">3.773</span>
<span class="t" style="left:951.80px;top:448.50px;font-size:12px;font-weight:400;color:#474747;letter-spacing:-0.250px;">3.599</span>
<span class="t" style="left:1093.10px;top:448.50px;font-size:12px;font-weight:400;color:#474747;letter-spacing:-0.250px;">0.174</span>
<div class="a" style="left:1449px;top:454px;width:55.00px;height:10px;background:#dcdcdc"></div>
<div class="a" style="left:1504px;top:454px;width:2.30px;height:10px;background:#08c040"></div>
<div class="a" style="left:1506.3px;top:454px;width:0.70px;height:10px;background:#8a7a88"></div>
<div class="a" style="left:783px;top:475px;width:109px;height:28px;background:#ffd033"></div>
<svg class="a" style="left:38.95px;top:486.60px" width="10.400" height="6.400" viewBox="0 0 10.400 6.400" fill="none" stroke="#2a2a2a" stroke-width="1.600" overflow="visible"><path d="M0.600 0.700L5.200 5.000L9.800 0.700"/></svg>
<svg class="a" style="left:58.5px;top:483px" width="16.400" height="14" viewBox="0 0 16.400 14" fill="#6a6a6a" overflow="visible"><rect x="0" y="-0.100" width="16.400" height="2.200"/><rect x="0" y="5.900" width="16.400" height="2.200"/><rect x="0" y="11.900" width="16.400" height="2.200"/></svg>
<svg class="a" style="left:82.9px;top:480.8px" width="16.200" height="16.200" viewBox="0 0 48 48"><path fill="#f44336" d="M4.43 10.11A24.0 24.0 0 0 1 45.82 14.00L24.00 14.00A10.0 10.0 0 0 0 15.34 29.00Z"/><path fill="#ffc107" d="M45.82 14.00A24.0 24.0 0 0 1 21.75 47.89L32.66 29.00A10.0 10.0 0 0 0 24.00 14.00Z"/><path fill="#4caf50" d="M21.75 47.89A24.0 24.0 0 0 1 4.43 10.11L15.34 29.00A10.0 10.0 0 0 0 32.66 29.00Z"/><path d="M46.82 14.00L24.00 14.00" stroke="#fff" stroke-width="1.600" fill="none"/><path d="M21.25 48.76L32.66 29.00" stroke="#fff" stroke-width="1.600" fill="none"/><path d="M3.93 9.24L15.34 29.00" stroke="#fff" stroke-width="1.600" fill="none"/><circle cx="24" cy="24" r="10.300" fill="#fff"/><circle cx="24" cy="24" r="8.600" fill="#2196f3"/></svg>
<svg class="a" style="left:102.95px;top:481.35px" width="12.100" height="12.100" viewBox="0 0 512 512"><path fill="#222" d="M256 8C119.043 8 8 119.083 8 256c0 136.997 111.043 248 248 248s248-111.003 248-248C504 119.083 392.957 8 256 8zm0 110c23.196 0 42 18.804 42 42s-18.804 42-42 42-42-18.804-42-42 18.804-42 42-42zm56 254c0 6.627-5.373 12-12 12h-88c-6.627 0-12-5.373-12-12v-24c0-6.627 5.373-12 12-12h12v-64h-12c-6.627 0-12-5.373-12-12v-24c0-6.627 5.373-12 12-12h64c6.627 0 12 5.373 12 12v100h12c6.627 0 12 5.373 12 12v24z"/></svg>
<span class="t" style="left:118.90px;top:478.00px;font-size:12px;font-weight:700;color:#333;transform:scaleX(0.8471);">[B]</span>
<span class="t" style="left:137.00px;top:478.00px;font-size:12px;font-weight:400;color:#474747;letter-spacing:0.085px;transform:scaleX(1.0159);">fetch - /query/query</span>
<span class="t" style="left:471.16px;top:478.50px;font-size:12px;font-weight:400;color:#474747;transform:scaleX(0.9405);">HTTP:Request</span>
<span class="t" style="left:596.00px;top:478.50px;font-size:12px;font-weight:400;color:#474747;transform:scaleX(0.9717);">05/05/2021 05:04:00 PM UTC</span>
<span class="t" style="left:823.00px;top:478.50px;font-size:12px;font-weight:400;color:#333;letter-spacing:-0.250px;">3.758</span>
<span class="t" style="left:951.80px;top:478.50px;font-size:12px;font-weight:400;color:#474747;letter-spacing:-0.250px;">3.587</span>
<span class="t" style="left:1093.10px;top:478.50px;font-size:12px;font-weight:400;color:#474747;letter-spacing:-0.250px;">0.171</span>
<div class="a" style="left:1449px;top:484px;width:55.00px;height:10px;background:#dcdcdc"></div>
<div class="a" style="left:1504px;top:484px;width:2.30px;height:10px;background:#08c040"></div>
<div class="a" style="left:1506.3px;top:484px;width:0.70px;height:10px;background:#8a7a88"></div>
<div class="a" style="left:783px;top:505px;width:109px;height:28px;background:#ffd033"></div>
<svg class="a" style="left:38.95px;top:516.60px" width="10.400" height="6.400" viewBox="0 0 10.400 6.400" fill="none" stroke="#2a2a2a" stroke-width="1.600" overflow="visible"><path d="M0.600 0.700L5.200 5.000L9.800 0.700"/></svg>
<svg class="a" style="left:58.5px;top:513px" width="16.400" height="14" viewBox="0 0 16.400 14" fill="#6a6a6a" overflow="visible"><rect x="0" y="-0.100" width="16.400" height="2.200"/><rect x="0" y="5.900" width="16.400" height="2.200"/><rect x="0" y="11.900" width="16.400" height="2.200"/></svg>
<svg class="a" style="left:82.9px;top:510.8px" width="16.200" height="16.200" viewBox="0 0 48 48"><path fill="#f44336" d="M4.43 10.11A24.0 24.0 0 0 1 45.82 14.00L24.00 14.00A10.0 10.0 0 0 0 15.34 29.00Z"/><path fill="#ffc107" d="M45.82 14.00A24.0 24.0 0 0 1 21.75 47.89L32.66 29.00A10.0 10.0 0 0 0 24.00 14.00Z"/><path fill="#4caf50" d="M21.75 47.89A24.0 24.0 0 0 1 4.43 10.11L15.34 29.00A10.0 10.0 0 0 0 32.66 29.00Z"/><path d="M46.82 14.00L24.00 14.00" stroke="#fff" stroke-width="1.600" fill="none"/><path d="M21.25 48.76L32.66 29.00" stroke="#fff" stroke-width="1.600" fill="none"/><path d="M3.93 9.24L15.34 29.00" stroke="#fff" stroke-width="1.600" fill="none"/><circle cx="24" cy="24" r="10.300" fill="#fff"/><circle cx="24" cy="24" r="8.600" fill="#2196f3"/></svg>
<svg class="a" style="left:102.95px;top:511.35px" width="12.100" height="12.100" viewBox="0 0 512 512"><path fill="#222" d="M256 8C119.043 8 8 119.083 8 256c0 136.997 111.043 248 248 248s248-111.003 248-248C504 119.083 392.957 8 256 8zm0 110c23.196 0 42 18.804 42 42s-18.804 42-42 42-42-18.804-42-42 18.804-42 42-42zm56 254c0 6.627-5.373 12-12 12h-88c-6.627 0-12-5.373-12-12v-24c0-6.627 5.373-12 12-12h12v-64h-12c-6.627 0-12-5.373-12-12v-24c0-6.627 5.373-12 12-12h64c6.627 0 12 5.373 12 12v100h12c6.627 0 12 5.373 12 12v24z"/></svg>
<span class="t" style="left:118.90px;top:508.00px;font-size:12px;font-weight:700;color:#333;transform:scaleX(0.8471);">[B]</span>
<span class="t" style="left:137.00px;top:508.00px;font-size:12px;font-weight:400;color:#474747;letter-spacing:0.085px;transform:scaleX(1.0159);">fetch - /query/query</span>
<span class="t" style="left:471.16px;top:508.50px;font-size:12px;font-weight:400;color:#474747;transform:scaleX(0.9405);">HTTP:Request</span>
<span class="t" style="left:596.00px;top:508.50px;font-size:12px;font-weight:400;color:#474747;transform:scaleX(0.9717);">05/05/2021 05:04:00 PM UTC</span>
<span class="t" style="left:823.00px;top:508.50px;font-size:12px;font-weight:400;color:#333;letter-spacing:-0.250px;">3.609</span>
<span class="t" style="left:951.80px;top:508.50px;font-size:12px;font-weight:400;color:#474747;letter-spacing:-0.250px;">3.479</span>
<span class="t" style="left:1093.10px;top:508.50px;font-size:12px;font-weight:400;color:#474747;letter-spacing:-0.250px;">0.130</span>
<div class="a" style="left:1449px;top:514px;width:53.00px;height:10px;background:#dcdcdc"></div>
<div class="a" style="left:1502px;top:514px;width:2.30px;height:10px;background:#08c040"></div>
<div class="a" style="left:1504.3px;top:514px;width:0.70px;height:10px;background:#8a7a88"></div>
<div class="a" style="left:783px;top:535px;width:109px;height:28px;background:#ffd033"></div>
<svg class="a" style="left:38.95px;top:546.60px" width="10.400" height="6.400" viewBox="0 0 10.400 6.400" fill="none" stroke="#2a2a2a" stroke-width="1.600" overflow="visible"><path d="M0.600 0.700L5.200 5.000L9.800 0.700"/></svg>
<svg class="a" style="left:58.5px;top:543px" width="16.400" height="14" viewBox="0 0 16.400 14" fill="#6a6a6a" overflow="visible"><rect x="0" y="-0.100" width="16.400" height="2.200"/><rect x="0" y="5.900" width="16.400" height="2.200"/><rect x="0" y="11.900" width="16.400" height="2.200"/></svg>
<svg class="a" style="left:82.9px;top:540.8px" width="16.200" height="16.200" viewBox="0 0 48 48"><path fill="#f44336" d="M4.43 10.11A24.0 24.0 0 0 1 45.82 14.00L24.00 14.00A10.0 10.0 0 0 0 15.34 29.00Z"/><path fill="#ffc107" d="M45.82 14.00A24.0 24.0 0 0 1 21.75 47.89L32.66 29.00A10.0 10.0 0 0 0 24.00 14.00Z"/><path fill="#4caf50" d="M21.75 47.89A24.0 24.0 0 0 1 4.43 10.11L15.34 29.00A10.0 10.0 0 0 0 32.66 29.00Z"/><path d="M46.82 14.00L24.00 14.00" stroke="#fff" stroke-width="1.600" fill="none"/><path d="M21.25 48.76L32.66 29.00" stroke="#fff" stroke-width="1.600" fill="none"/><path d="M3.93 9.24L15.34 29.00" stroke="#fff" stroke-width="1.600" fill="none"/><circle cx="24" cy="24" r="10.300" fill="#fff"/><circle cx="24" cy="24" r="8.600" fill="#2196f3"/></svg>
<svg class="a" style="left:102.95px;top:541.35px" width="12.100" height="12.100" viewBox="0 0 512 512"><path fill="#222" d="M256 8C119.043 8 8 119.083 8 256c0 136.997 111.043 248 248 248s248-111.003 248-248C504 119.083 392.957 8 256 8zm0 110c23.196 0 42 18.804 42 42s-18.804 42-42 42-42-18.804-42-42 18.804-42 42-42zm56 254c0 6.627-5.373 12-12 12h-88c-6.627 0-12-5.373-12-12v-24c0-6.627 5.373-12 12-12h12v-64h-12c-6.627 0-12-5.373-12-12v-24c0-6.627 5.373-12 12-12h64c6.627 0 12 5.373 12 12v100h12c6.627 0 12 5.373 12 12v24z"/></svg>
<span class="t" style="left:118.90px;top:538.00px;font-size:12px;font-weight:700;color:#333;transform:scaleX(0.8471);">[B]</span>
<span class="t" style="left:137.00px;top:538.00px;font-size:12px;font-weight:400;color:#474747;letter-spacing:0.085px;transform:scaleX(1.0159);">fetch - /query/query</span>
<span class="t" style="left:471.16px;top:538.50px;font-size:12px;font-weight:400;color:#474747;transform:scaleX(0.9405);">HTTP:Request</span>
<span class="t" style="left:596.00px;top:538.50px;font-size:12px;font-weight:400;color:#474747;transform:scaleX(0.9717);">05/05/2021 05:04:00 PM UTC</span>
<span class="t" style="left:823.00px;top:538.50px;font-size:12px;font-weight:400;color:#333;letter-spacing:-0.250px;">3.609</span>
<span class="t" style="left:951.80px;top:538.50px;font-size:12px;font-weight:400;color:#474747;letter-spacing:-0.250px;">3.477</span>
<span class="t" style="left:1093.10px;top:538.50px;font-size:12px;font-weight:400;color:#474747;letter-spacing:-0.250px;">0.132</span>
<div class="a" style="left:1449px;top:544px;width:53.00px;height:10px;background:#dcdcdc"></div>
<div class="a" style="left:1502px;top:544px;width:2.30px;height:10px;background:#08c040"></div>
<div class="a" style="left:1504.3px;top:544px;width:0.70px;height:10px;background:#8a7a88"></div>
<div class="a" style="left:783px;top:565px;width:109px;height:28px;background:#ffd033"></div>
<svg class="a" style="left:38.95px;top:576.60px" width="10.400" height="6.400" viewBox="0 0 10.400 6.400" fill="none" stroke="#2a2a2a" stroke-width="1.600" overflow="visible"><path d="M0.600 0.700L5.200 5.000L9.800 0.700"/></svg>
<svg class="a" style="left:58.5px;top:573px" width="16.400" height="14" viewBox="0 0 16.400 14" fill="#6a6a6a" overflow="visible"><rect x="0" y="-0.100" width="16.400" height="2.200"/><rect x="0" y="5.900" width="16.400" height="2.200"/><rect x="0" y="11.900" width="16.400" height="2.200"/></svg>
<svg class="a" style="left:82.9px;top:570.8px" width="16.200" height="16.200" viewBox="0 0 48 48"><path fill="#f44336" d="M4.43 10.11A24.0 24.0 0 0 1 45.82 14.00L24.00 14.00A10.0 10.0 0 0 0 15.34 29.00Z"/><path fill="#ffc107" d="M45.82 14.00A24.0 24.0 0 0 1 21.75 47.89L32.66 29.00A10.0 10.0 0 0 0 24.00 14.00Z"/><path fill="#4caf50" d="M21.75 47.89A24.0 24.0 0 0 1 4.43 10.11L15.34 29.00A10.0 10.0 0 0 0 32.66 29.00Z"/><path d="M46.82 14.00L24.00 14.00" stroke="#fff" stroke-width="1.600" fill="none"/><path d="M21.25 48.76L32.66 29.00" stroke="#fff" stroke-width="1.600" fill="none"/><path d="M3.93 9.24L15.34 29.00" stroke="#fff" stroke-width="1.600" fill="none"/><circle cx="24" cy="24" r="10.300" fill="#fff"/><circle cx="24" cy="24" r="8.600" fill="#2196f3"/></svg>
<svg class="a" style="left:102.95px;top:571.35px" width="12.100" height="12.100" viewBox="0 0 512 512"><path fill="#222" d="M256 8C119.043 8 8 119.083 8 256c0 136.997 111.043 248 248 248s248-111.003 248-248C504 119.083 392.957 8 256 8zm0 110c23.196 0 42 18.804 42 42s-18.804 42-42 42-42-18.804-42-42 18.804-42 42-42zm56 254c0 6.627-5.373 12-12 12h-88c-6.627 0-12-5.373-12-12v-24c0-6.627 5.373-12 12-12h12v-64h-12c-6.627 0-12-5.373-12-12v-24c0-6.627 5.373-12 12-12h64c6.627 0 12 5.373 12 12v100h12c6.627 0 12 5.373 12 12v24z"/></svg>
<span class="t" style="left:118.90px;top:568.00px;font-size:12px;font-weight:700;color:#333;transform:scaleX(0.8471);">[B]</span>
<span class="t" style="left:137.00px;top:568.00px;font-size:12px;font-weight:400;color:#474747;letter-spacing:0.085px;transform:scaleX(1.0159);">fetch - /query/query</span>
<span class="t" style="left:471.16px;top:568.50px;font-size:12px;font-weight:400;color:#474747;transform:scaleX(0.9405);">HTTP:Request</span>
<span class="t" style="left:596.00px;top:568.50px;font-size:12px;font-weight:400;color:#474747;transform:scaleX(0.9717);">05/05/2021 05:04:00 PM UTC</span>
<span class="t" style="left:823.00px;top:568.50px;font-size:12px;font-weight:400;color:#333;letter-spacing:-0.250px;">3.596</span>
<span class="t" style="left:951.80px;top:568.50px;font-size:12px;font-weight:400;color:#474747;letter-spacing:-0.250px;">3.468</span>
<span class="t" style="left:1093.10px;top:568.50px;font-size:12px;font-weight:400;color:#474747;letter-spacing:-0.250px;">0.128</span>
<div class="a" style="left:1449px;top:574px;width:53.00px;height:10px;background:#dcdcdc"></div>
<div class="a" style="left:1502px;top:574px;width:2.30px;height:10px;background:#08c040"></div>
<div class="a" style="left:1504.3px;top:574px;width:0.70px;height:10px;background:#8a7a88"></div>
</div></div>
<div class="a" style="left:1612px;top:302px;width:10px;height:282px;border-radius:5px;background:#fff;box-shadow:inset 0 0 3px rgba(0,0,0,0.3)"></div>
<div class="a" style="left:1612px;top:302px;width:10px;height:211px;border-radius:5px;background:linear-gradient(90deg,#e3e3e3,#f4f4f4 35%,#f4f4f4 65%,#e3e3e3);box-shadow:inset 0 0 2px rgba(0,0,0,0.15)"></div>
<span class="t" style="left:49.00px;top:584.00px;font-size:11px;font-weight:400;color:#444;transform:scaleX(0.8500);">5</span>
</body></html>
